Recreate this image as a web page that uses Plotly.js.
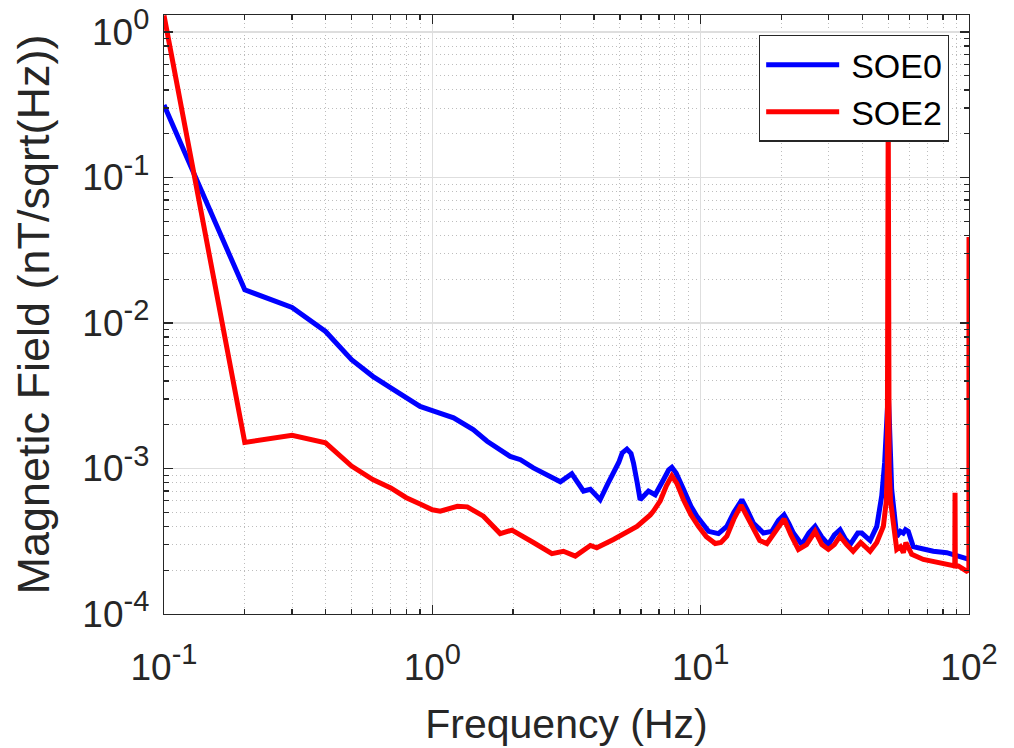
<!DOCTYPE html>
<html>
<head>
<meta charset="utf-8">
<script src="https://cdn.plot.ly/plotly-3.0.1.min.js"></script>
<style>html,body{margin:0;padding:0;background:#fff;}#chart{width:1014px;height:748px;}</style>
</head>
<body>
<div id="chart"></div>
<script>
// Frequency (Hz) and amplitude spectral density (nT/sqrt(Hz))
const freqSOE0 = [0.1, 0.2, 0.3, 0.4, 0.5, 0.6, 0.7, 0.8, 0.9, 1.0,
  1.2, 1.42, 1.6, 1.95, 2.13, 2.38, 2.67, 3.0, 3.31, 3.66, 3.88, 4.22,
  4.5, 4.73, 4.95, 5.1, 5.31, 5.5, 5.62, 5.8, 5.95, 6.39, 6.77, 7.3, 7.6, 7.81, 8.1, 8.63,
  9.2, 9.68, 10.7, 11.65, 12.52, 13.3, 14.24, 14.9, 15.73, 17.14, 18.42, 19.5, 20.46,
  21.3, 22.16, 23.82, 25.3, 26.7, 28.2, 29.92, 31.5, 33.08, 34.5, 36.05, 37.08,
  38.5, 39.85, 41.0, 42.79, 45.32, 47.3, 48.5, 49.5, 50.0, 50.5,
  51.5, 53.8, 55.5, 56.9, 58.0, 59.4, 62.0, 67.6, 73.6, 82.6, 90.0, 98.0, 100.0];
const valSOE0 = [0.315, 0.0169, 0.0128, 0.00875, 0.0056, 0.0043, 0.00358, 0.00305, 0.00267, 0.0025,
  0.00223, 0.00185, 0.00154, 0.00121, 0.00115, 0.00101, 0.00091, 0.00081, 0.00092, 0.0007, 0.00072, 0.00061,
  0.00078, 0.00093, 0.0011, 0.00128, 0.00136, 0.00127, 0.00109, 0.0008, 0.00061, 0.0007, 0.00066, 0.00085, 0.00098, 0.00102, 0.00093, 0.00072,
  0.00055, 0.00047, 0.00037, 0.000357, 0.0004, 0.0005, 0.00061, 0.00052, 0.00042, 0.00036, 0.00037, 0.00044, 0.00048,
  0.00042, 0.00036, 0.0003, 0.00036, 0.0004, 0.00034, 0.0003, 0.00035, 0.00038, 0.00033, 0.0003, 0.00033,
  0.00036, 0.00036, 0.00034, 0.00032, 0.0004, 0.00065, 0.0011, 0.0022, 0.0033, 0.0021,
  0.00072, 0.00034, 0.00037, 0.00036, 0.00038, 0.00037, 0.00029, 0.00028, 0.00027, 0.000264, 0.00025, 0.00024, 0.000237];

const freqSOE2 = [0.1, 0.2, 0.3, 0.4, 0.5, 0.6, 0.7, 0.8, 0.9, 1.0,
  1.07, 1.24, 1.35, 1.55, 1.79, 1.98, 2.38, 2.79, 3.08, 3.41, 3.88, 4.1,
  4.73, 5.01, 5.79, 6.49, 6.67, 7.07, 7.45, 7.81, 8.15, 8.63, 9.2, 9.81, 10.5, 11.33, 11.9, 12.52,
  13.3, 14.15, 14.9, 15.73, 16.6, 17.65, 18.9, 20.46, 21.7, 23.13, 24.8, 26.7, 28.3, 29.92,
  31.5, 33.08, 35.0, 37.0, 39.5, 42.79, 45.32,
  47.96, 49.2, 49.6, 50.0, 50.4, 51.0, 52.24, 53.79, 55.5, 56.93, 58.2, 59.42, 61.19,
  67.57, 75.81, 84.97, 88.5, 88.7, 88.9, 91.25, 98.0, 99.9, 100.0];
const valSOE2 = [1.3, 0.00151, 0.00169, 0.0015, 0.00104, 0.00084, 0.000736, 0.00063, 0.00057, 0.00052,
  0.000509, 0.00055, 0.000545, 0.00047, 0.000357, 0.000377, 0.00031, 0.00026, 0.00027, 0.00025, 0.000296, 0.000285,
  0.000325, 0.000346, 0.0004, 0.00048, 0.00051, 0.0006, 0.00076, 0.00089, 0.00079, 0.00061, 0.00048, 0.0004, 0.00034, 0.000305, 0.00031, 0.000343,
  0.00045, 0.00056, 0.00047, 0.00038, 0.00032, 0.000305, 0.00036, 0.00045, 0.00035, 0.000278, 0.0003, 0.00037, 0.0003, 0.000278,
  0.0003, 0.000343, 0.0003, 0.00027, 0.00031, 0.00027, 0.00031,
  0.0004, 0.0006, 0.001, 0.3, 0.001, 0.0006, 0.00042, 0.000278, 0.00029, 0.000264, 0.00031, 0.00029, 0.000257,
  0.000237, 0.000225, 0.000216, 0.000214, 0.00068, 0.000214, 0.000214, 0.000197, 0.0002, 0.039];

const xTickVals = [0.1, 1, 10, 100];
const xTickExp = ['-1', '0', '1', '2'];
const yTickVals = [1e-4, 1e-3, 1e-2, 1e-1, 1];
const yTickExp = ['-4', '-3', '-2', '-1', '0'];

function powLabel(e) {
  return '10<sup><span style="font-size:29px">' + e + '</span></sup>';
}

function minorVals(lo, hi) {
  const out = [];
  for (let e = lo; e < hi; e++) {
    for (let m = 2; m <= 9; m++) out.push(m * Math.pow(10, e));
  }
  return out;
}

const font = 'Arial, "Liberation Sans", Helvetica, sans-serif';
const axisColor = '#262626';

const traces = [
  {x: freqSOE0, y: valSOE0, type: 'scatter', mode: 'lines', name: 'SOE0',
   line: {color: '#0000ff', width: 5}},
  {x: freqSOE2, y: valSOE2, type: 'scatter', mode: 'lines', name: 'SOE2',
   line: {color: '#ff0000', width: 5}}
];

const common = {
  type: 'log',
  showline: true, linecolor: axisColor, linewidth: 1.3, mirror: 'ticks',
  ticks: 'inside', ticklen: 9, tickcolor: axisColor, tickwidth: 1.3,
  showgrid: true, gridcolor: '#dedede', gridwidth: 1.2,
  zeroline: false,
  tickfont: {family: font, size: 37, color: axisColor},
  tickmode: 'array'
};

const minorCommon = {tickmode: 'array', ticks: 'inside', ticklen: 5,
  tickcolor: axisColor, showgrid: true, gridcolor: '#bdbdbd', griddash: '1px,3px', gridwidth: 1};

const layout = {
  width: 1014, height: 748,
  margin: {l: 163.5, r: 45, t: 15, b: 134},
  paper_bgcolor: '#ffffff', plot_bgcolor: '#ffffff',
  showlegend: true,
  legend: {x: 0.975, xanchor: 'right', y: 0.967, yanchor: 'top',
    bgcolor: '#ffffff', bordercolor: axisColor, borderwidth: 1.3,
    itemwidth: 81,
    font: {family: font, size: 34, color: '#000'}, tracegroupgap: 0},
  xaxis: Object.assign({}, common, {
    range: [-1, 2],
    tickvals: xTickVals, ticktext: xTickExp.map(powLabel),
    ticklabelstandoff: 20,
    minor: Object.assign({tickvals: minorVals(-1, 2)}, minorCommon),
    title: {text: 'Frequency (Hz)', font: {family: font, size: 41, color: axisColor}, standoff: 22}
  }),
  yaxis: Object.assign({}, common, {
    range: [-4, 0.117],
    tickvals: yTickVals, ticktext: yTickExp.map(powLabel),
    ticklabelstandoff: 6,
    minor: Object.assign({tickvals: minorVals(-4, 1)}, minorCommon),
    title: {text: 'Magnetic Field (nT/sqrt(Hz))', font: {family: font, size: 45, color: axisColor}, standoff: 18}
  })
};

Plotly.newPlot('chart', traces, layout, {displayModeBar: false, staticPlot: true}).then(function (gd) {
  // lengthen the legend line samples to match the reference style
  gd.querySelectorAll('.legend .legendlines path').forEach(function (p) {
    p.setAttribute('d', 'M6,0h73');
  });
});
</script>
</body>
</html>
